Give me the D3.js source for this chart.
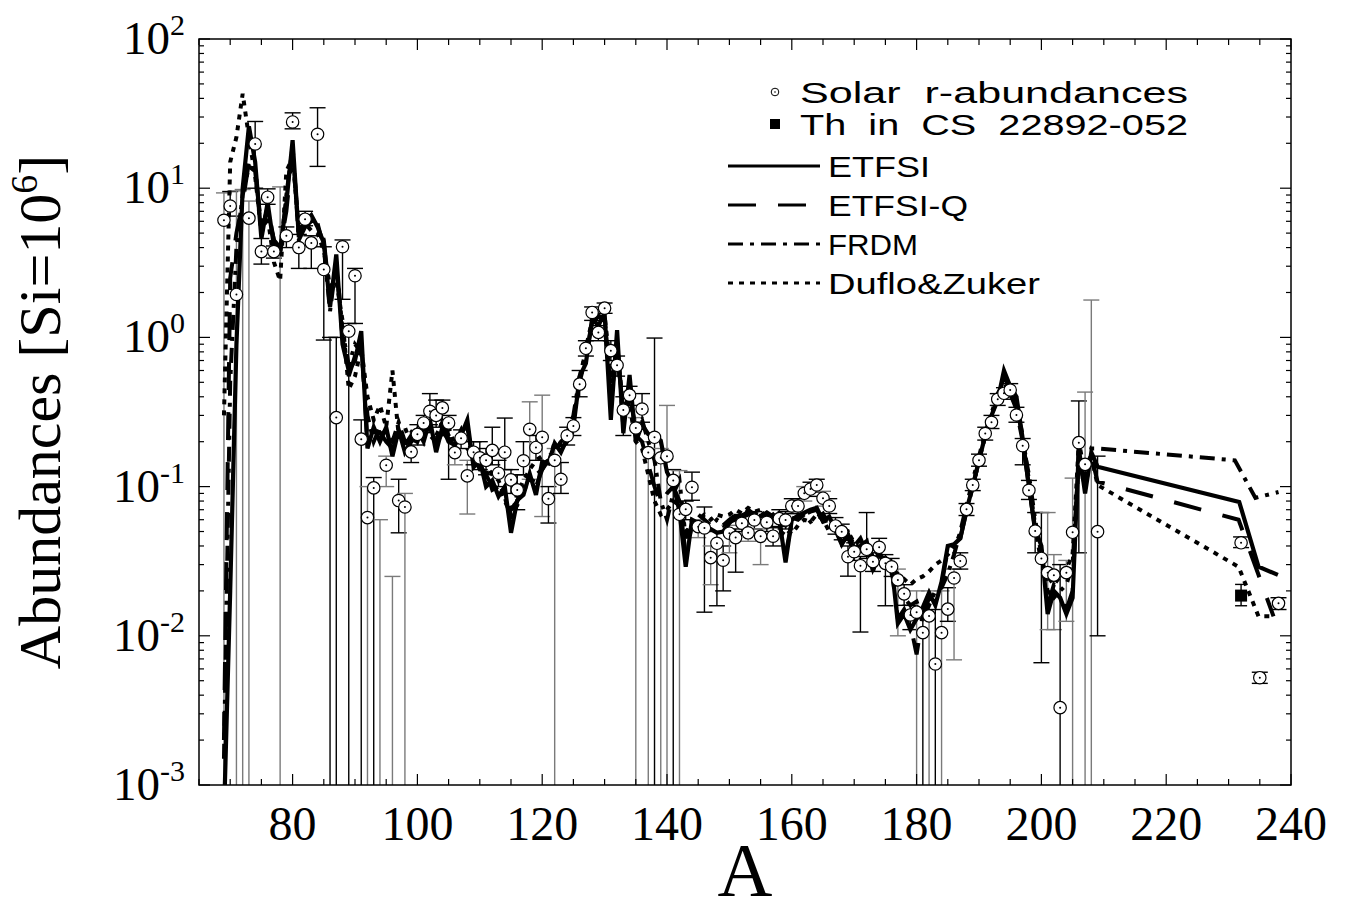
<!DOCTYPE html>
<html>
<head>
<meta charset="utf-8">
<script src="https://cdn.jsdelivr.net/npm/d3@7"></script>
<style>
body { margin: 0; background: #fff; }
</style>
</head>
<body>
<svg id="chart" width="1348" height="911"></svg>
<script>

// mass numbers for the model curves, then one value per mass number
var modelA = d3.range(69, 210);

var etfsi = [0.0006,0.02,0.9,10,26,15,4.6,8,4.1,3.9,8,21,4.7,6,6.6,5.5,4.3,1.6,3.6,0.9,
	0.6,0.7,1.1,0.18,0.25,0.2,0.25,0.16,0.24,0.17,0.2,0.24,0.2,0.28,0.17,0.25,0.2,0.19,0.22,0.28,
	0.135,0.15,0.1,0.11,0.086,0.1,0.049,0.081,0.088,0.122,0.088,0.147,0.143,0.195,0.17,0.21,0.25,0.545,0.67,1.34,
	1.2,1.45,0.28,1.12,0.228,0.56,0.2,0.26,0.225,0.22,0.203,0.125,0.105,0.068,0.029,0.06,0.057,0.0525,0.052,0.049,
	0.05,0.057,0.063,0.064,0.067,0.06,0.063,0.067,0.063,0.06,0.031,0.06,0.064,0.067,0.07,0.072,0.059,0.063,0.051,0.041,
	0.048,0.037,0.04,0.043,0.027,0.037,0.029,0.03,0.0121,0.014,0.011,0.013,0.0155,0.0195,0.016,0.023,0.04,0.041,0.045,0.07,
	0.1,0.15,0.22,0.3,0.38,0.6,0.47,0.4,0.21,0.1,0.052,0.04,0.014,0.02,0.018,0.014,0.018,0.18,0.09,0.17,0.136];

var etfsiQ = [0.002,2.5,5,8,15,14,5,7.5,4.5,4,7,18,5,5.5,6,6.2,4.5,1.8,3,1,
	0.55,0.75,0.9,0.2,0.22,0.23,0.2,0.18,0.22,0.19,0.22,0.22,0.24,0.25,0.19,0.23,0.21,0.2,0.2,0.25,
	0.14,0.14,0.12,0.1,0.095,0.09,0.07,0.08,0.095,0.11,0.1,0.13,0.15,0.18,0.18,0.2,0.27,0.5,0.75,1.25,
	1.3,1.3,0.35,0.95,0.25,0.45,0.22,0.2,0.14,0.1,0.075,0.09,0.1,0.08,0.035,0.055,0.055,0.05,0.05,0.052,
	0.05,0.058,0.06,0.062,0.065,0.058,0.062,0.065,0.06,0.058,0.035,0.058,0.062,0.065,0.068,0.07,0.058,0.06,0.05,0.042,
	0.046,0.036,0.04,0.041,0.028,0.035,0.03,0.028,0.013,0.015,0.012,0.0075,0.014,0.018,0.017,0.022,0.038,0.042,0.045,0.068,
	0.1,0.15,0.22,0.3,0.39,0.55,0.45,0.38,0.2,0.1,0.05,0.038,0.016,0.022,0.02,0.015,0.02,0.19,0.1,0.16,0.108];

var frdm = [0.0015,0.5,4,9,14,13,5.5,7,4.5,3.5,9,19,4.5,5.5,6.2,5.8,4,1.5,3.2,1.1,
	0.65,0.9,0.8,0.3,0.2,0.25,0.22,0.2,0.27,0.2,0.23,0.2,0.26,0.22,0.2,0.28,0.22,0.2,0.24,0.18,
	0.16,0.13,0.13,0.095,0.1,0.08,0.065,0.075,0.1,0.1,0.12,0.13,0.16,0.17,0.2,0.22,0.3,0.55,0.8,1.2,
	1.4,1.35,0.45,0.9,0.3,0.4,0.25,0.28,0.2,0.15,0.08,0.06,0.09,0.11,0.045,0.06,0.065,0.06,0.055,0.06,
	0.055,0.06,0.065,0.06,0.07,0.065,0.07,0.06,0.065,0.058,0.055,0.062,0.06,0.065,0.058,0.062,0.066,0.055,0.058,0.048,
	0.05,0.04,0.045,0.036,0.04,0.034,0.033,0.026,0.022,0.018,0.016,0.017,0.013,0.016,0.02,0.021,0.026,0.035,0.05,0.075,
	0.11,0.16,0.23,0.31,0.42,0.5,0.42,0.33,0.2,0.12,0.06,0.035,0.02,0.018,0.02,0.022,0.03,0.15,0.1,0.18,0.18];

var dufloZuker = [0.3,15,22,43,22,12,5,6.5,3.2,2.4,13,16,5.2,5.8,5.2,5,3.8,2.2,2.4,1.3,
	0.45,0.55,0.85,0.4,0.28,0.35,0.25,0.6,0.22,0.25,0.19,0.21,0.25,0.24,0.22,0.27,0.25,0.19,0.22,0.2,
	0.17,0.16,0.14,0.12,0.11,0.085,0.06,0.09,0.11,0.13,0.15,0.16,0.14,0.2,0.19,0.22,0.28,0.5,0.85,1.3,
	1.25,1.4,0.6,0.8,0.35,0.35,0.2,0.18,0.12,0.08,0.065,0.07,0.08,0.075,0.05,0.055,0.06,0.065,0.06,0.065,
	0.063,0.065,0.07,0.066,0.072,0.068,0.07,0.065,0.05,0.045,0.052,0.048,0.055,0.06,0.058,0.065,0.06,0.05,0.055,0.045,
	0.05,0.042,0.038,0.04,0.034,0.035,0.031,0.028,0.026,0.024,0.022,0.024,0.025,0.027,0.03,0.032,0.035,0.04,0.048,0.068,
	0.1,0.15,0.22,0.3,0.4,0.48,0.45,0.35,0.22,0.11,0.055,0.03,0.025,0.022,0.025,0.028,0.035,0.2,0.12,0.16,0.1025];

// extrapolated tails beyond A = 209
var etfsiTailA = [231.7, 234.8, 237.9];
var etfsiTail = [0.079, 0.029, 0.0256];
var etfsiQTailA = [231.6, 237.2];
var etfsiQTail = [0.06, 0.0135];
var frdmTailA = [231, 234.3, 238];
var frdmTail = [0.15, 0.084, 0.092];
var dufloTailA = [231.6, 234.8, 237.2];
var dufloTail = [0.029, 0.0135, 0.0135];

// solar r-abundances: value, upper and lower end of the error bar (0 = down to the axis)
var solarA = d3.range(69, 210).concat([232, 235, 238]);
var solarVal = [6.1,7.6,1.94,null,6.3,19.8,3.76,8.7,3.76,null,4.8,27.8,4.0,6.2,4.3,23,2.85,null,0.29,4.05,
	1.1,2.59,0.208,0.062,0.098,null,0.139,null,0.0806,0.073,0.171,0.224,0.267,0.32,0.30,0.337,0.267,0.169,0.211,0.118,
	0.17,0.156,0.15,0.175,0.123,0.17,0.111,0.095,0.149,0.242,0.183,0.214,0.083,0.15,0.112,0.219,0.255,0.486,0.845,1.47,
	1.08,1.57,0.815,0.65,0.326,0.41,0.247,0.331,0.169,0.214,0.156,0.16,0.11,0.0652,0.0704,0.099,0.0539,0.0528,0.0334,0.0417,
	0.0321,0.0487,0.0455,0.0568,0.049,0.0597,0.0464,0.0577,0.0465,0.061,0.0597,0.0741,0.0741,0.0902,0.0963,0.1025,0.0836,0.0741,0.0545,0.0499,
	0.0339,0.0366,0.0295,0.038,0.0314,0.0392,0.0306,0.029,0.0237,0.0191,0.0138,0.0144,0.0105,0.0136,0.00647,0.0105,0.0151,0.0244,0.0317,0.0704,
	0.1025,0.15,0.227,0.27,0.385,0.422,0.444,0.302,0.188,0.0945,0.0504,0.033,0.0265,0.0255,0.0033,0.0265,0.0494,0.197,0.141,null,0.0499,
	0.042,0.00524,0.0165];
var solarHi = [9.3,9.5,9.6,9.8,8.2,28,4.6,9.9,4.1,10.2,5.5,32,4.9,7.0,4.8,34.6,4.05,1.0,1.0,4.5,
	1.24,2.9,0.28,0.1,0.115,0.06,0.16,0.025,0.112,0.09,0.2,0.26,0.3,0.42,0.38,0.38,0.3,0.2,0.24,0.15,
	0.2,0.2,0.18,0.25,0.15,0.288,0.13,0.12,0.2,0.37,0.22,0.41,0.1,0.18,0.145,0.25,0.29,0.6,0.95,1.6,
	1.2,1.7,0.95,0.75,0.4,0.47,0.29,0.42,0.2,0.99,0.18,0.35,0.13,0.128,0.08,0.125,0.06,0.073,0.04,0.05,
	0.04,0.055,0.052,0.065,0.056,0.068,0.052,0.065,0.053,0.07,0.068,0.083,0.083,0.1,0.107,0.112,0.093,0.083,0.062,0.056,
	0.04,0.042,0.034,0.067,0.036,0.045,0.035,0.033,0.028,0.022,0.016,0.02,0.013,0.02,0.015,0.02,0.021,0.028,0.036,0.077,
	0.112,0.165,0.25,0.3,0.42,0.46,0.49,0.34,0.21,0.11,0.067,0.067,0.067,0.035,0.03,0.032,0.114,0.375,0.43,1.78,0.16,
	0.046,0.0057,0.018];
var solarLo = [0,6.5,0,0,0,10,3.1,7.8,3.4,0,4.0,25,2.9,5.6,2.9,14,0.96,0,0,1.8,
	0,1.24,0,0,0,0,0.1,0,0.049,0,0.145,0.19,0.23,0.26,0.25,0.28,0.112,0.14,0.18,0.0655,
	0.14,0.13,0.12,0.14,0.1,0.13,0.09,0.07,0.12,0.112,0.15,0.063,0.057,0,0.09,0.19,0.22,0.4,0.75,1.3,
	0.95,1.45,0.7,0.55,0.22,0.35,0,0.27,0,0,0,0,0,0,0.06,0.081,0.0455,0.0144,0.022,0.0159,
	0.02,0.036,0.0267,0.05,0.043,0.052,0.03,0.05,0.04,0.054,0.052,0.066,0.066,0.08,0.086,0.092,0.074,0.066,0.048,0.044,
	0.0251,0.032,0.0106,0.033,0.027,0.034,0.0159,0.025,0.01,0.016,0.011,0,0,0,0,0,0.0125,0.0069,0.028,0.064,
	0.094,0.137,0.205,0.245,0.35,0.385,0.4,0.27,0.14,0.082,0.036,0.0066,0.011,0.011,0,0.0125,0,0.036,0,0,0.01,
	0.039,0.0048,0.015];
// mass numbers whose error bars are drawn in grey
var greyBarA = [69,71,72,73,78,92,94,95,96,98,106,108,118,120,122,135,137,139,140,142,145,147,150,153,155,162,165,177,180,182,184,186,201,202,204,205,207,208];

// thorium in CS 22892-052
var thA = [232];
var thVal = [0.0186];
var thHi = [0.0221];
var thLo = [0.0159];

var xTickLabels = [80, 100, 120, 140, 160, 180, 200, 220, 240];
var yDecades = [-3, -2, -1, 0, 1, 2];

var legendNames = ["Solar  r-abundances", "Th  in  CS  22892-052", "ETFSI", "ETFSI-Q", "FRDM", "Duflo&Zuker"];

var pLeft = 199, pRight = 1291, pTop = 39, pBottom = 785;

var svg = d3.select("#chart");

var x = d3.scaleLinear().domain([65, 240]).range([pLeft, pRight]);
var y = d3.scaleLog().domain([1e-3, 1e2]).range([pBottom, pTop]);

svg.append("defs").append("clipPath").attr("id", "plotclip")
	.append("rect").attr("x", pLeft).attr("y", pTop)
	.attr("width", pRight - pLeft).attr("height", pBottom - pTop);

var plot = svg.append("g").attr("clip-path", "url(#plotclip)");

function yc(v) {
	return v > 0 ? y(v) : pBottom;
}

// error bars
var solar = solarA.map(function (a, i) {
	return { a: a, v: solarVal[i], hi: solarHi[i], lo: solarLo[i] };
});

var bars = plot.append("g").selectAll("g").data(solar).enter().append("g")
	.attr("stroke", function (d) { return greyBarA.indexOf(d.a) >= 0 ? "#7a7a7a" : "#000"; })
	.attr("stroke-width", 1.4);
bars.append("line")
	.attr("x1", function (d) { return x(d.a); })
	.attr("x2", function (d) { return x(d.a); })
	.attr("y1", function (d) { return y(d.hi); })
	.attr("y2", function (d) { return yc(d.lo); });
bars.append("line")
	.attr("x1", function (d) { return x(d.a) - 8; })
	.attr("x2", function (d) { return x(d.a) + 8; })
	.attr("y1", function (d) { return y(d.hi); })
	.attr("y2", function (d) { return y(d.hi); });
bars.filter(function (d) { return d.lo > 0; }).append("line")
	.attr("x1", function (d) { return x(d.a) - 8; })
	.attr("x2", function (d) { return x(d.a) + 8; })
	.attr("y1", function (d) { return y(d.lo); })
	.attr("y2", function (d) { return y(d.lo); });

// model curves
var line = d3.line()
	.x(function (d) { return x(d[0]); })
	.y(function (d) { return y(d[1]); });

function curve(vals, tailA, tail) {
	var p = modelA.map(function (a, i) { return [a, vals[i]]; });
	return p.concat(tailA.map(function (a, i) { return [a, tail[i]]; }));
}

var models = [
	{ pts: curve(dufloZuker, dufloTailA, dufloTail), dash: "5,6", w: 4 },
	{ pts: curve(frdm, frdmTailA, frdmTail), dash: "15,7,4,7", w: 4 },
	{ pts: curve(etfsiQ, etfsiQTailA, etfsiQTail), dash: "28,22", w: 4 },
	{ pts: curve(etfsi, etfsiTailA, etfsiTail), dash: null, w: 4.2 }
];

models.forEach(function (m) {
	plot.append("path")
		.attr("d", line(m.pts))
		.attr("fill", "none")
		.attr("stroke", "#000")
		.attr("stroke-width", m.w)
		.attr("stroke-linejoin", "miter")
		.attr("stroke-dasharray", m.dash);
});

// solar circles
var pts = plot.append("g").selectAll("g")
	.data(solar.filter(function (d) { return d.v !== null; }))
	.enter().append("g")
	.attr("transform", function (d) { return "translate(" + x(d.a) + "," + y(d.v) + ")"; });
pts.append("circle").attr("r", 6.2).attr("fill", "#fff").attr("stroke", "#000").attr("stroke-width", 1.2);
pts.append("circle").attr("r", 1).attr("fill", "#000");

// Th point
thA.forEach(function (a, i) {
	var g = plot.append("g").attr("stroke", "#000").attr("stroke-width", 1.4);
	g.append("line").attr("x1", x(a)).attr("x2", x(a)).attr("y1", y(thHi[i])).attr("y2", y(thLo[i]));
	g.append("line").attr("x1", x(a) - 6).attr("x2", x(a) + 6).attr("y1", y(thHi[i])).attr("y2", y(thHi[i]));
	g.append("line").attr("x1", x(a) - 6).attr("x2", x(a) + 6).attr("y1", y(thLo[i])).attr("y2", y(thLo[i]));
	plot.append("rect").attr("x", x(a) - 6).attr("y", y(thVal[i]) - 6)
		.attr("width", 12).attr("height", 12).attr("fill", "#000");
});

// frame and ticks
svg.append("rect").attr("x", pLeft).attr("y", pTop)
	.attr("width", pRight - pLeft).attr("height", pBottom - pTop)
	.attr("fill", "none").attr("stroke", "#000").attr("stroke-width", 1.5);

var ticks = svg.append("g").attr("stroke", "#000").attr("stroke-width", 1.2);
d3.range(65, 241, 5).forEach(function (a) {
	var len = a % 20 === 0 ? 11 : 6;
	ticks.append("line").attr("x1", x(a)).attr("x2", x(a)).attr("y1", pBottom).attr("y2", pBottom - len);
	ticks.append("line").attr("x1", x(a)).attr("x2", x(a)).attr("y1", pTop).attr("y2", pTop + len);
});
y.ticks().forEach(function (t) {
	var major = Math.abs(Math.log10(t) - Math.round(Math.log10(t))) < 1e-6;
	var len = major ? 11 : 5;
	ticks.append("line").attr("x1", pLeft).attr("x2", pLeft + len).attr("y1", y(t)).attr("y2", y(t));
	ticks.append("line").attr("x1", pRight).attr("x2", pRight - len).attr("y1", y(t)).attr("y2", y(t));
});

var serif = "'Liberation Serif', 'Times New Roman', serif";

svg.append("g").selectAll("text").data(xTickLabels).enter().append("text")
	.attr("x", function (d) { return x(d); })
	.attr("y", 840)
	.attr("text-anchor", "middle")
	.style("font-family", serif).style("font-size", "48px")
	.text(function (d) { return d; });

var yl = svg.append("g").selectAll("text").data(yDecades).enter().append("text")
	.attr("x", 185)
	.attr("y", function (d) { return y(Math.pow(10, d)) + 15; })
	.attr("text-anchor", "end")
	.style("font-family", serif).style("font-size", "47px");
yl.append("tspan").text("10");
yl.append("tspan").attr("dy", -19).style("font-size", "30px").text(function (d) { return d; });

svg.append("text")
	.attr("x", (pLeft + pRight) / 2).attr("y", 896)
	.attr("text-anchor", "middle")
	.style("font-family", serif).style("font-size", "76px")
	.text("A");

var ylab = svg.append("text")
	.attr("transform", "translate(60," + ((pTop + pBottom) / 2) + ") rotate(-90)")
	.attr("text-anchor", "middle")
	.style("font-family", serif).style("font-size", "60px");
ylab.append("tspan").text("Abundances [Si=10");
ylab.append("tspan").attr("dy", -23).style("font-size", "38px").text("6");
ylab.append("tspan").attr("dy", 23).text("]");

// legend
var sans = "'Liberation Sans', Arial, sans-serif";
var legendRows = [
	{ cy: 92, tx: 800, len: 388 },
	{ cy: 124, tx: 800, len: 388 },
	{ cy: 166, tx: 828, len: 102 },
	{ cy: 205, tx: 828, len: 140 },
	{ cy: 244, tx: 828, len: 90 },
	{ cy: 283, tx: 828, len: 212 }
];
var legendDash = [null, "28,22", "15,7,4,7", "5,6"];
var lg = svg.append("g");
legendNames.forEach(function (name, i) {
	var r = legendRows[i];
	lg.append("text")
		.attr("x", r.tx).attr("y", r.cy + 11)
		.attr("textLength", r.len).attr("lengthAdjust", "spacingAndGlyphs")
		.style("font-family", sans).style("font-size", "30px")
		.style("white-space", "pre")
		.text(name);
	if (i === 0) {
		lg.append("circle").attr("cx", 775).attr("cy", r.cy).attr("r", 3.8)
			.attr("fill", "#fff").attr("stroke", "#000").attr("stroke-width", 1);
		lg.append("circle").attr("cx", 775).attr("cy", r.cy).attr("r", 0.8).attr("fill", "#000");
	} else if (i === 1) {
		lg.append("rect").attr("x", 770).attr("y", r.cy - 5).attr("width", 10).attr("height", 10).attr("fill", "#000");
	} else {
		lg.append("line").attr("x1", 728).attr("x2", 820).attr("y1", r.cy).attr("y2", r.cy)
			.attr("stroke", "#000").attr("stroke-width", 3)
			.attr("stroke-dasharray", legendDash[i - 2]);
	}
});

</script>
</body>
</html>
